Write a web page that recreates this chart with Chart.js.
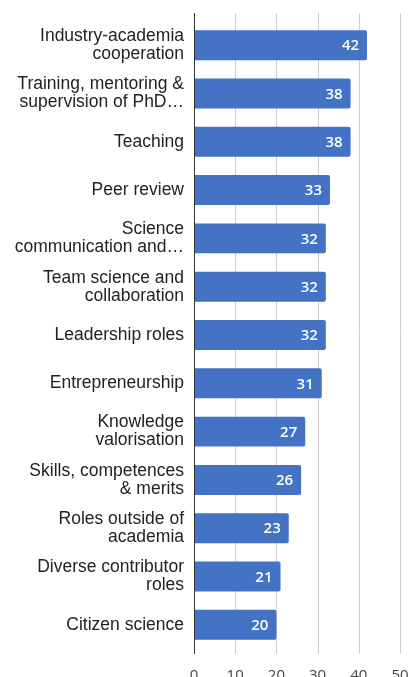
<!DOCTYPE html>
<html>
<head>
<meta charset="utf-8">
<script src="https://cdn.jsdelivr.net/npm/chart.js@4/dist/chart.umd.min.js"></script>
<style>
  html, body { margin: 0; padding: 0; background: #fff; overflow: hidden; }
  #wrap { position: relative; width: 411px; height: 690px; }
</style>
</head>
<body>
<div id="wrap"><canvas id="c"></canvas></div>
<script>
const categories = [
  ["Industry-academia", "cooperation"],
  ["Training, mentoring &", "supervision of PhD\u2026"],
  ["Teaching"],
  ["Peer review"],
  ["Science", "communication and\u2026"],
  ["Team science and", "collaboration"],
  ["Leadership roles"],
  ["Entrepreneurship"],
  ["Knowledge", "valorisation"],
  ["Skills, competences", "& merits"],
  ["Roles outside of", "academia"],
  ["Diverse contributor", "roles"],
  ["Citizen science"]
];
const values = [42, 38, 38, 33, 32, 32, 32, 31, 27, 26, 23, 21, 20];
const xTicks = [0, 10, 20, 30, 40, 50];

// vertical grid lines and axis line, extending a little beyond the plot area
const gridPlugin = {
  id: 'gridPlugin',
  beforeDatasetsDraw(chart) {
    const ctx = chart.ctx;
    const xs = chart.scales.x;
    const top = chart.chartArea.top - 8;
    const bottom = chart.chartArea.bottom + 5;
    ctx.save();
    xTicks.forEach(v => {
      if (v === 0) return;
      const px = Math.round(xs.getPixelForValue(v)) + 0.5;
      ctx.strokeStyle = '#cccccc';
      ctx.lineWidth = 1;
      ctx.beginPath(); ctx.moveTo(px, top); ctx.lineTo(px, bottom); ctx.stroke();
    });
    ctx.restore();
  },
  afterDatasetsDraw(chart) {
    const ctx = chart.ctx;
    const xs = chart.scales.x;
    const top = chart.chartArea.top - 8;
    const bottom = chart.chartArea.bottom + 5;
    const px = Math.round(xs.getPixelForValue(0)) + 0.5;
    ctx.save();
    ctx.strokeStyle = '#333333';
    ctx.lineWidth = 1;
    ctx.beginPath(); ctx.moveTo(px, top); ctx.lineTo(px, bottom); ctx.stroke();
    ctx.restore();
  }
};

const barLabels = {
  id: 'barLabels',
  afterDatasetsDraw(chart) {
    const ctx = chart.ctx;
    const meta = chart.getDatasetMeta(0);
    ctx.save();
    ctx.font = '600 15px "Open Sans", sans-serif';
    ctx.fillStyle = '#ffffff';
    ctx.textAlign = 'right';
    ctx.textBaseline = 'middle';
    meta.data.forEach((bar, i) => {
      ctx.fillText(String(values[i]), bar.x - 8, bar.y + 1);
    });
    ctx.restore();
  }
};

new Chart(document.getElementById('c'), {
  type: 'bar',
  data: {
    labels: categories,
    datasets: [{
      data: values,
      backgroundColor: '#4472c4',
      borderRadius: 2,
      borderSkipped: 'start',
      categoryPercentage: 0.62,
      barPercentage: 1.0
    }]
  },
  options: {
    indexAxis: 'y',
    responsive: true,
    maintainAspectRatio: false,
    animation: false,
    layout: { padding: { top: 21, right: 11, left: 0, bottom: 0 } },
    plugins: { legend: { display: false }, tooltip: { enabled: false } },
    scales: {
      x: {
        min: 0, max: 50,
        afterBuildTicks(scale) { scale.ticks = xTicks.map(v => ({ value: v })); },
        afterFit(scale) { scale.height = 41; scale.paddingLeft = 0; scale.paddingRight = 0; },
        grid: { display: false, drawTicks: false },
        border: { display: false },
        ticks: {
          padding: 18,
          color: '#444444',
          font: { family: '"Open Sans", sans-serif', size: 15 }
        }
      },
      y: {
        afterFit(scale) { scale.width = 194; scale.paddingTop = 0; scale.paddingBottom = 0; },
        grid: { display: false, drawTicks: false },
        border: { display: false },
        ticks: {
          padding: 10,
          color: '#222222',
          font: { family: '"Liberation Sans", Arial, sans-serif', size: 17.5, lineHeight: 1.03 }
        }
      }
    }
  },
  plugins: [gridPlugin, barLabels]
});
</script>
</body>
</html>
